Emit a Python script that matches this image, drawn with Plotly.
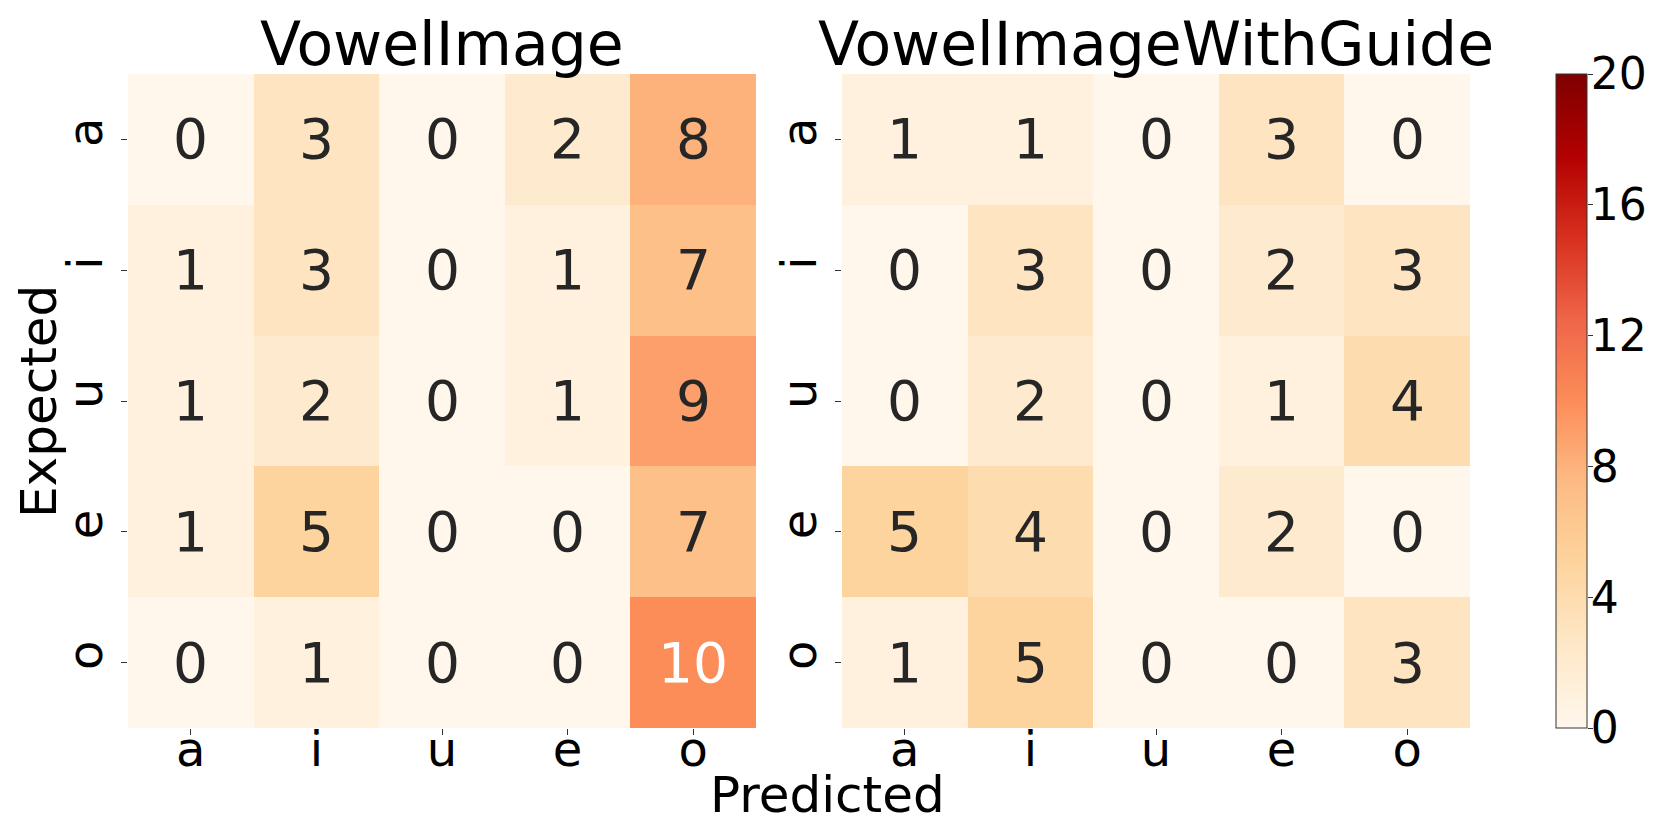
import plotly.graph_objects as go

labels = ['a', 'i', 'u', 'e', 'o']
titles = ['VowelImage', 'VowelImageWithGuide']

# rows = expected, cols = predicted
vowel_image = [
    [0, 3, 0, 2, 8],
    [1, 3, 0, 1, 7],
    [1, 2, 0, 1, 9],
    [1, 5, 0, 0, 7],
    [0, 1, 0, 0, 10],
]
vowel_image_guide = [
    [1, 1, 0, 3, 0],
    [0, 3, 0, 2, 3],
    [0, 2, 0, 1, 4],
    [5, 4, 0, 2, 0],
    [1, 5, 0, 0, 3],
]
cbar_ticks = [0, 4, 8, 12, 16, 20]
zmin, zmax = 0, 20

W, H = 1661, 830
FONT = 'DejaVu Sans'

fig = go.Figure()

domains = [(120 / W, 748 / W), (834 / W, 1462 / W)]
cb_dom = (1548 / W, 1579 / W)
ydom = (1 - 720 / H, 1 - 66 / H)

for k, (z, title) in enumerate(zip([vowel_image, vowel_image_guide], titles)):
    sfx = '' if k == 0 else str(k + 1)
    fig.add_trace(go.Heatmap(
        z=z, x=labels, y=labels,
        coloraxis='coloraxis',
        xaxis='x' + sfx, yaxis='y' + sfx,
        hoverinfo='skip',
    ))
    # cell annotations
    for i, row in enumerate(z):
        for j, v in enumerate(row):
            fig.add_annotation(
                x=labels[j], y=labels[i], xref='x' + sfx, yref='y' + sfx,
                text=str(v), showarrow=False,
                font=dict(family=FONT, size=55, color='white' if v >= 10 else '#262626'),
            )
    axis_common = dict(
        ticks='outside', ticklen=6, tickwidth=1, tickcolor='#333333',
        showgrid=False, zeroline=False, showline=False, automargin=False,
        tickfont=dict(family=FONT, size=48, color='black'),
    )
    fig.layout['xaxis' + sfx] = dict(domain=list(domains[k]), anchor='y' + sfx,
                                    categoryorder='array', categoryarray=labels,
                                    ticklabelstandoff=-27, **axis_common)
    fig.layout['yaxis' + sfx] = dict(domain=list(ydom), anchor='x' + sfx,
                                    autorange='reversed', tickangle=-90,
                                    ticklabelstandoff=0, **axis_common)
    fig.add_annotation(
        x=sum(domains[k]) / 2, y=1 - 36 / H, xref='paper', yref='paper',
        text=title, showarrow=False, xanchor='center', yanchor='middle',
        font=dict(family=FONT, size=60, color='black'),
    )

# colorbar tick labels via an axis pair laid over the bar
# (empty trace only so that plotly draws the axis)
fig.add_trace(go.Scatter(x=[], y=[], xaxis='x3', yaxis='y3', showlegend=False, hoverinfo='skip'))
fig.layout['xaxis3'] = dict(domain=list(cb_dom), anchor='y3', visible=False,
                            range=[0, 1], automargin=False)
fig.layout['yaxis3'] = dict(
    domain=list(ydom), anchor='x3', side='right',
    range=[zmin, zmax], tickvals=cbar_ticks, autorange=False, automargin=False,
    ticks='outside', ticklen=5, tickwidth=1, tickcolor='#333333',
    showgrid=False, zeroline=False, showline=False,
    tickfont=dict(family=FONT, size=44, color='black'),
    ticklabelstandoff=-11,
)

fig.add_annotation(x=819 / W, y=1 - 787 / H, xref='paper', yref='paper',
                   text='Predicted', showarrow=False, xanchor='center', yanchor='middle',
                   font=dict(family=FONT, size=50, color='black'))
fig.add_annotation(x=31 / W, y=1 - 394 / H, xref='paper', yref='paper',
                   text='Expected', showarrow=False, xanchor='center', yanchor='middle',
                   textangle=-90, font=dict(family=FONT, size=50, color='black'))

fig.update_layout(
    width=W, height=H,
    margin=dict(l=0, r=0, t=0, b=0, pad=0, autoexpand=False),
    paper_bgcolor='white', plot_bgcolor='rgba(0,0,0,0)',
    coloraxis=dict(
        colorscale='OrRd', cmin=zmin, cmax=zmax,
        colorbar=dict(
            x=cb_dom[0], xanchor='left', y=sum(ydom) / 2, yanchor='middle',
            len=ydom[1] - ydom[0], lenmode='fraction', thickness=31,
            outlinewidth=1, outlinecolor='#333333',
            tickvals=cbar_ticks, ticks='', showticklabels=False,
            xpad=0, ypad=0,
        ),
    ),
    showlegend=False,
)

fig.write_html('out.html')
